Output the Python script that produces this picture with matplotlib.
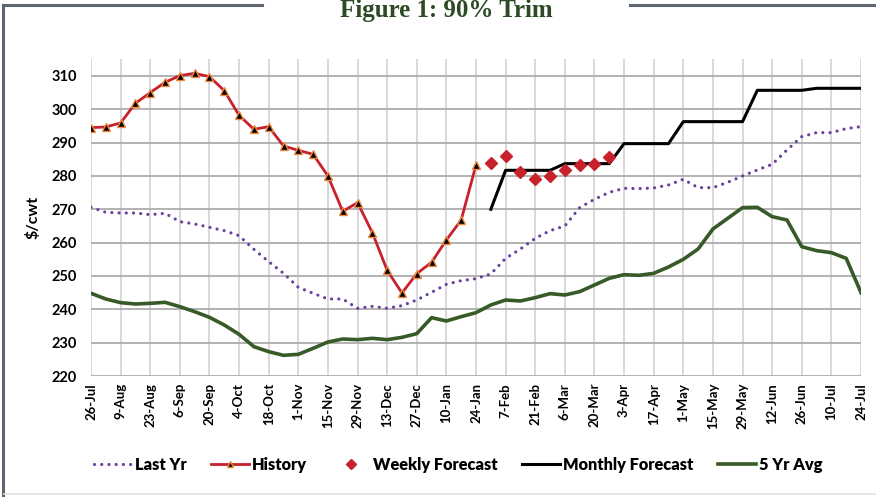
import matplotlib
matplotlib.use("Agg")
import matplotlib.pyplot as plt
from matplotlib.lines import Line2D
import numpy as np

tick_labels = ["26-Jul", "9-Aug", "23-Aug", "6-Sep", "20-Sep", "4-Oct", "18-Oct",
               "1-Nov", "15-Nov", "29-Nov", "13-Dec", "27-Dec", "10-Jan", "24-Jan",
               "7-Feb", "21-Feb", "6-Mar", "20-Mar", "3-Apr", "17-Apr", "1-May",
               "15-May", "29-May", "12-Jun", "26-Jun", "10-Jul", "24-Jul"]

last_yr = [270.6, 269.1, 268.9, 268.9, 268.4, 268.8, 266.3, 265.6, 264.6, 263.6,
           262.1, 258.0, 254.3, 250.8, 246.6, 244.8, 243.1, 243.1, 240.3, 240.9,
           240.3, 241.1, 242.8, 245.1, 247.5, 248.6, 249.2, 250.6, 255.3, 258.1,
           261.3, 263.6, 265.0, 270.5, 273.0, 275.1, 276.3, 276.2, 276.4, 277.3,
           279.0, 276.5, 276.5, 278.1, 280.0, 281.8, 283.5, 287.8, 291.8, 293.0,
           293.0, 294.2, 294.8]

history = [294.5, 294.7, 295.9, 301.8, 305.0, 308.1, 310.1, 310.8, 309.8, 305.6,
           298.2, 294.0, 294.8, 289.0, 287.7, 286.5, 280.0, 269.4, 272.0, 263.0,
           251.7, 244.9, 250.7, 254.1, 260.8, 266.8, 283.3]

weekly_fc = [284.0, 286.0, 281.1, 279.1, 279.9, 281.7, 283.4, 283.6, 285.8]

monthly_fc = [270.0, 281.7, 281.7, 281.7, 281.7, 283.7, 283.7, 283.7, 283.7,
              289.7, 289.7, 289.7, 289.7, 296.3, 296.3, 296.3, 296.3, 296.3,
              305.7, 305.7, 305.7, 305.7, 306.3, 306.3, 306.3, 306.3]

avg5 = [244.8, 243.1, 242.0, 241.6, 241.8, 242.1, 240.8, 239.3, 237.6, 235.3,
        232.5, 228.8, 227.3, 226.2, 226.5, 228.3, 230.2, 231.1, 230.9, 231.3,
        230.9, 231.6, 232.7, 237.5, 236.5, 237.8, 239.0, 241.3, 242.8, 242.5,
        243.5, 244.7, 244.3, 245.3, 247.3, 249.3, 250.4, 250.2, 250.8, 252.7,
        255.0, 258.1, 264.1, 267.3, 270.5, 270.6, 267.8, 266.8, 258.8, 257.6,
        257.0, 255.3, 245.0]

FONT = ["Lato", "DejaVu Sans"]
plt.rcParams["font.family"] = FONT

fig = plt.figure(figsize=(8.76, 4.97), dpi=100)
ax = fig.add_axes([91 / 876, 1 - 376 / 497, (861 - 91) / 876, (376 - 59.3) / 497])

n = len(last_yr)
x_all = np.arange(n)
x_hist = np.arange(len(history))
x_wk = np.arange(len(history), len(history) + len(weekly_fc))
x_mo = np.arange(n - len(monthly_fc), n)

purple = "#6A3FA0"
red = "#C8212B"
green = "#375A27"

ax.plot(x_all, avg5, color=green, lw=2.6, zorder=3)
ax.plot(x_all, last_yr, color=purple, lw=2.3, linestyle=(0, (0.01, 2.25)),
        dash_capstyle="round", zorder=3)
ax.plot(x_mo, monthly_fc, color="black", lw=2.2, zorder=4)
ax.plot(x_wk, weekly_fc, linestyle="none", marker="D", markersize=6.2,
        color=red, zorder=5)
ax.plot(x_hist, history, color=red, lw=2.0, marker="^", markersize=6,
        markerfacecolor="black", markeredgecolor="#F0883A", markeredgewidth=1.0,
        zorder=6)

ax.set_xlim(0, n - 1)
ax.set_ylim(220, 315)
ax.set_yticks(np.arange(220, 311, 10))
ax.set_xticks(np.arange(0, n, 2))
ax.set_xticklabels(tick_labels, rotation=90, fontsize=9.5, fontweight="bold")
for t in ax.get_yticklabels():
    t.set_fontsize(10.5)
    t.set_fontweight("bold")
ax.tick_params(length=0, pad=5)
ax.tick_params(axis="y", pad=10)

ax.grid(axis="x", color="#D6D6D6", lw=1.3, zorder=0)
ax.grid(axis="y", color="#ADADAD", lw=1.3, zorder=0)
for s in ax.spines.values():
    s.set_visible(False)
ax.set_axisbelow(True)

ax.set_ylabel("$/cwt", fontsize=11.5, fontweight="bold", labelpad=8)

handles = [
    Line2D([], [], color=purple, lw=2.3, linestyle=(0, (0.01, 2.25)), dash_capstyle="round"),
    Line2D([], [], color=red, lw=2.0, marker="^", markersize=5,
           markerfacecolor="black", markeredgecolor="#F0883A"),
    Line2D([], [], linestyle="none", marker="D", markersize=5, color=red),
    Line2D([], [], color="black", lw=2.2),
    Line2D([], [], color=green, lw=2.6),
]
labels = ["Last Yr", "History", "Weekly Forecast", "Monthly Forecast", "5 Yr Avg"]
fig.legend(handles, labels, loc="center", bbox_to_anchor=(0.523, 1 - 465 / 497),
           ncol=5, frameon=False, prop={"family": FONT, "weight": "heavy", "size": 11.8},
           handlelength=2.3, handletextpad=0.2, columnspacing=1.5)

fig.text(446 / 876, 1 - 17 / 497, "Figure 1: 90% Trim", ha="center", va="baseline",
         fontsize=18, fontweight="bold", color="#2D4A26",
         family=["Liberation Serif", "DejaVu Serif"])

frame = "#5E6670"
fig.add_artist(Line2D([3 / 876, 262 / 876], [1 - 5 / 497, 1 - 5 / 497], color=frame, lw=2.2))
fig.add_artist(Line2D([630 / 876, 1.0], [1 - 5 / 497, 1 - 5 / 497], color=frame, lw=2.2))
fig.add_artist(Line2D([3 / 876, 3 / 876], [1 - 5 / 497, 0.0], color=frame, lw=2.2))
fig.add_artist(Line2D([4 / 876, 1.0], [1 - 494 / 497, 1 - 494 / 497], color="#E2E2E2", lw=1.2))

fig.savefig("out.png", dpi=100)
